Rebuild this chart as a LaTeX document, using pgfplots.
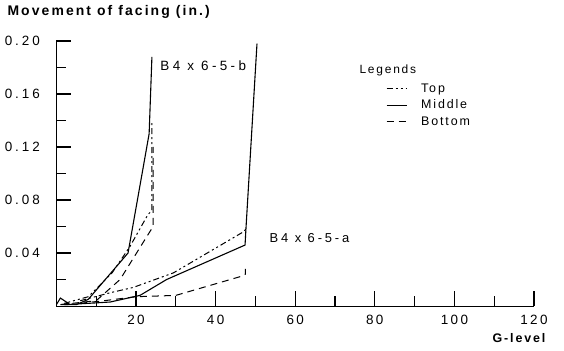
\documentclass[border=0pt]{standalone}
\usepackage{pgfplots}
\pgfplotsset{compat=1.18}
\usepackage{fontspec}
\setmainfont{Liberation Sans}[LetterSpace=15]
\begin{document}
\begin{tikzpicture}
\useasboundingbox (0,0) rectangle (564bp,351bp);
\begin{axis}[
  at={(56.4bp,45bp)}, anchor=south west,
  scale only axis, width=477.6bp, height=265bp,
  xmin=0, xmax=120, ymin=0, ymax=0.2,
  axis lines*=left,
  axis line style={line width=0.9bp},
  xtick align=inside, ytick align=inside,
  major tick length=15bp, minor tick length=10bp,
  every tick/.style={black, line width=1.1bp},
  xtick={20,40,60,80,100,120},
  minor xtick={10,30,50,70,90,110},
  ytick={0.04,0.08,0.12,0.16,0.20},
  minor ytick={0.02,0.06,0.10,0.14,0.18},
  /pgf/number format/assume math mode=true,
  yticklabel style={/pgf/number format/fixed, /pgf/number format/fixed zerofill, /pgf/number format/precision=2, font=\fontsize{13.5}{13.5}\selectfont\addfontfeature{LetterSpace=22}, xshift=-13bp},
  xticklabel style={font=\fontsize{13.5}{13.5}\selectfont\addfontfeature{LetterSpace=18}, yshift=-6bp},
  scaled y ticks=false,
  legend style={draw=none, fill=none, at={(axis description cs:0.69,0.845)}, anchor=north west,
    inner sep=0pt, row sep=3.5bp, font=\fontsize{12.5}{12.5}\selectfont,
    nodes={inner sep=1bp, text height=9bp, text depth=2bp}},
  legend cell align=left,
  legend image code/.code={\draw[#1] (0bp,0bp) -- (20bp,0bp);},
]
% legend entries
\addlegendimage{black, line width=1bp, dash pattern=on 6bp off 3bp on 2bp off 3bp on 2bp off 3bp}
\addlegendentry{\hspace{13bp}Top}
\addlegendimage{black, line width=1bp}
\addlegendentry{\hspace{13bp}Middle}
\addlegendimage{black, line width=1bp, dash pattern=on 7bp off 5bp}
\addlegendentry{\hspace{13bp}Bottom}
% B4 x 6-5-b
\addplot[forget plot, black, line width=1bp, dash pattern=on 6bp off 3bp on 2bp off 3bp on 2bp off 3bp] coordinates {
 (2,0.002) (8,0.007) (14,0.025) (18.5,0.045) (23,0.069) (24,0.072) (24,0.14)};
\addplot[forget plot, black, line width=1bp, dash pattern=on 7bp off 5bp] coordinates {
 (4,0.002) (10,0.004) (16,0.02) (21.8,0.048) (24.3,0.06) (24.3,0.12)};
\addplot[forget plot, black, line width=1.1bp] coordinates {
 (0,0.001) (1,0.006) (3,0.002) (1,0.001) (5,0.001) (8,0.005) (18,0.04) (23.3,0.13) (24,0.188)};
% B4 x 6-5-a
\addplot[forget plot, black, line width=1bp, dash pattern=on 6bp off 3bp on 2bp off 3bp on 2bp off 3bp] coordinates {
 (6,0.004) (13.5,0.01) (19.3,0.014) (29.4,0.025) (47,0.056) (47.6,0.058)};
\addplot[forget plot, black, line width=1bp, dash pattern=on 7bp off 5bp] coordinates {
 (6,0.002) (12,0.004) (20,0.007) (30,0.008) (46,0.022) (47.5,0.024) (47.5,0.028)};
\addplot[forget plot, black, line width=1.1bp] coordinates {
 (2,0.001) (8,0.002) (13.5,0.003) (21,0.008) (27.7,0.02) (47.4,0.046) (47.6,0.057) (50.4,0.198)};
\node[font=\fontsize{13.5}{13.5}\selectfont\addfontfeature{LetterSpace=25}] at (axis cs:36.9,0.181) {B4 x 6-5-b};
\node[font=\fontsize{13}{13}\selectfont\addfontfeature{LetterSpace=22}] at (axis cs:63.6,0.0513) {B4 x 6-5-a};
\end{axis}
\node[anchor=west, font=\bfseries\fontsize{14}{14}\selectfont] at (4bp,339bp) {Movement of facing (in.)};
\node[font=\bfseries\fontsize{12.5}{13}\selectfont] at (519bp,13bp) {G-level};
\node[anchor=west, font=\fontsize{12}{12}\selectfont] at (356bp,281bp) {Legends};
\end{tikzpicture}
\end{document}
